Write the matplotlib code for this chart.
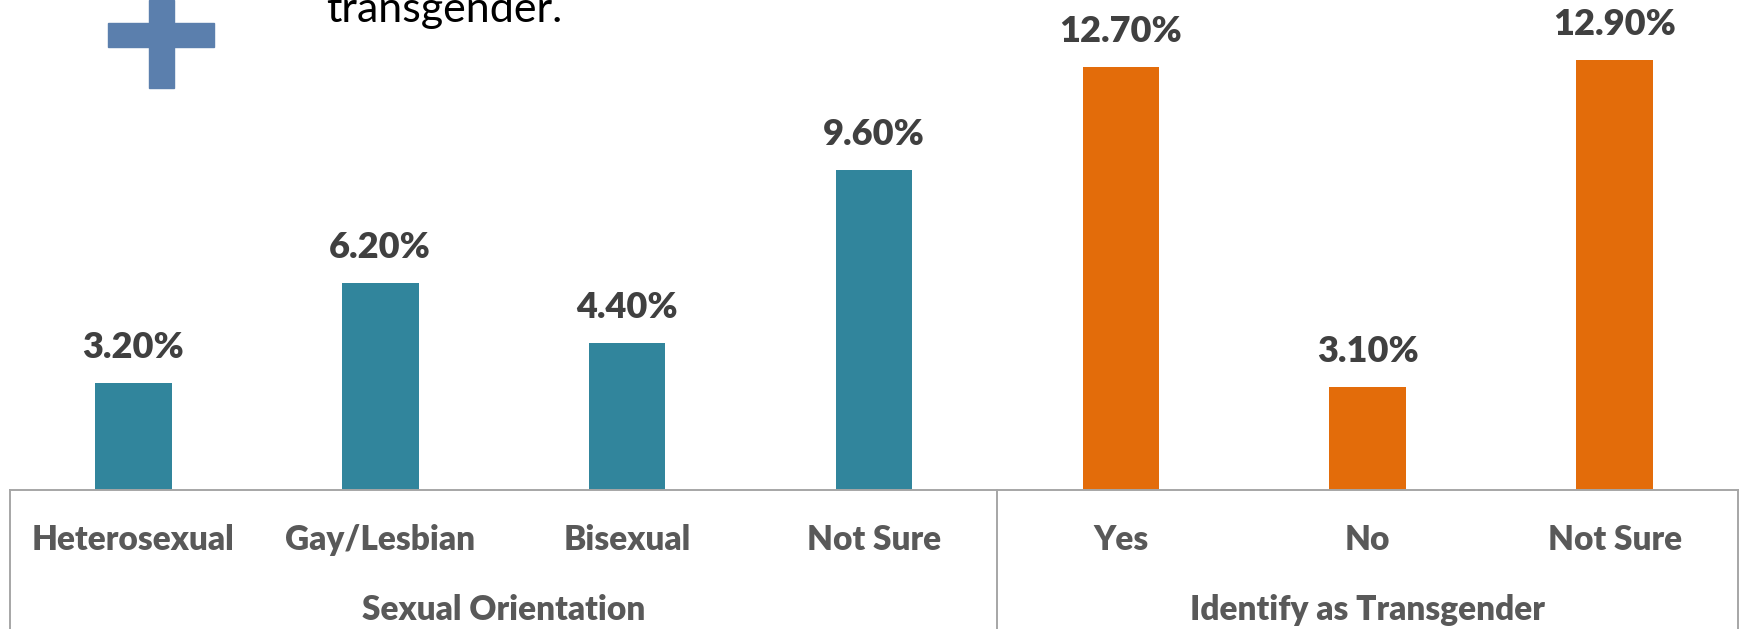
import matplotlib
matplotlib.use("Agg")
import matplotlib.pyplot as plt
from matplotlib.patches import Rectangle

# ------------------------------------------------------------------
# DATA
# ------------------------------------------------------------------
categories = ["Heterosexual", "Gay/Lesbian", "Bisexual", "Not Sure",
              "Yes", "No", "Not Sure"]
values = [3.2, 6.2, 4.4, 9.6, 12.7, 3.1, 12.9]
groups = ["Sexual Orientation", "Identify as Transgender"]
group_sizes = [4, 3]
group_colors = ["#31859C", "#E36C0A"]

plt.rcParams["font.family"] = ["Lato", "DejaVu Sans"]

W, H = 1741, 629
fig = plt.figure(figsize=(W / 100, H / 100), dpi=100)

base_px = 490  # y of axis baseline, from top
ax = fig.add_axes([10 / W, (H - base_px) / H, 1728 / W, base_px / H])

colors = []
for c, n in zip(group_colors, group_sizes):
    colors += [c] * n
x = list(range(len(categories)))
ax.bar(x, values, width=0.31, color=colors, zorder=2)
ax.set_xlim(-0.5, len(categories) - 0.5)
ax.set_ylim(0, 14.71)
ax.axis("off")

# value labels
for xi, v in zip(x, values):
    ax.annotate(f"{v:.2f}%", (xi, v), xytext=(0, 18), textcoords="offset points",
                ha="center", va="baseline", fontsize=26, fontweight=800,
                color="#404040")

# category axis box
trans = ax.get_xaxis_transform()
ybot = -(H - base_px) / base_px
line_kw = dict(color="#A6A6A6", lw=1.4, transform=trans, clip_on=False)
ax.plot([-0.5, len(categories) - 0.5], [0, 0], **line_kw)
edges = [-0.5]
for n in group_sizes:
    edges.append(edges[-1] + n)
for e in edges:
    ax.plot([e, e], [0, ybot], **line_kw)

for xi, name in zip(x, categories):
    ax.text(xi, -60 / base_px, name, transform=trans, ha="center", va="baseline",
            fontsize=24, fontweight=800, color="#595959")
for i, g in enumerate(groups):
    mid = (edges[i] + edges[i + 1]) / 2
    ax.text(mid, -130 / base_px, g, transform=trans, ha="center", va="baseline",
            fontsize=24, fontweight=800, color="#595959")

# slide leftovers: plus icon and cut-off text
plus = "#5B7FAD"
fig.patches.append(Rectangle((108 / W, 1 - 47 / H), 106 / W, 24 / H,
                             transform=fig.transFigure, color=plus))
fig.patches.append(Rectangle((149 / W, 1 - 88 / H), 25 / W, 88 / H,
                             transform=fig.transFigure, color=plus))
fig.text(326 / W, 1 - 22 / H, "transgender.", fontsize=31, color="black",
         ha="left", va="baseline")

fig.savefig("out.png", dpi=100)
